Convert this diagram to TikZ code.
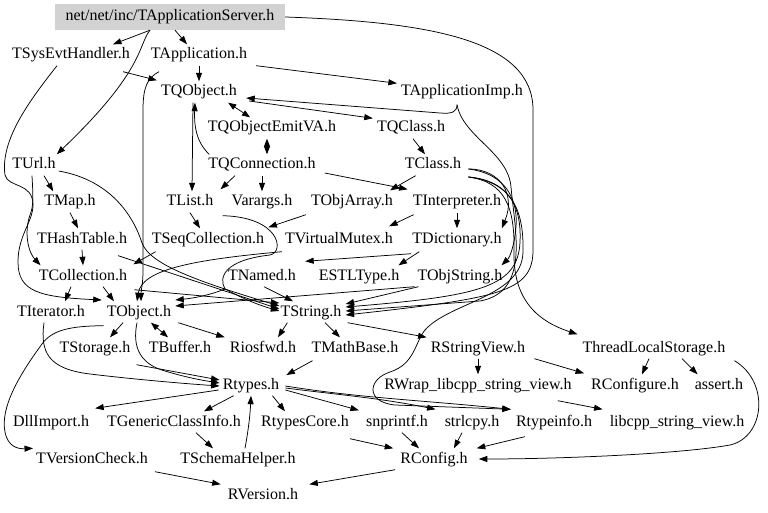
\documentclass[tikz,border=0pt]{standalone}
\usepackage{fontspec}
\setmainfont{Liberation Serif}
\usetikzlibrary{arrows.meta,calc}
\begin{document}
\begin{tikzpicture}[x=1pt,y=-1pt,
  n/.style={inner xsep=1pt,inner ysep=0pt,minimum height=21pt,text height=11.5pt,text depth=3.5pt,yshift=-2pt,font=\fontsize{16}{19}\selectfont},
  e/.style={-{Triangle[length=8.5pt,width=6pt]},line width=0.75pt},
  bi/.style={{Triangle[length=8pt,width=6pt]}-{Triangle[length=8pt,width=6pt]},line width=0.75pt}]
\useasboundingbox (0,0) rectangle (768,513);
% nodes
\node[n,fill=gray!35,minimum width=230pt,minimum height=26pt,yshift=1pt] (AS) at (170,16) {net/net/inc/TApplicationServer.h};
\node[n] (SysEvt) at (71,53) {TSysEvtHandler.h};
\node[n] (App) at (199,53) {TApplication.h};
\node[n] (QObj) at (199,90) {TQObject.h};
\node[n] (AppImp) at (462,90) {TApplicationImp.h};
\node[n] (QEVA) at (272,126) {TQObjectEmitVA.h};
\node[n] (QClass) at (411,126) {TQClass.h};
\node[n] (TUrl) at (34,163) {TUrl.h};
\node[n] (QConn) at (262,163) {TQConnection.h};
\node[n] (TClass) at (433,163) {TClass.h};
\node[n] (TMap) at (70,200) {TMap.h};
\node[n] (TList) at (190,200) {TList.h};
\node[n] (Varargs) at (262,200) {Varargs.h};
\node[n] (TObjArray) at (352,200) {TObjArray.h};
\node[n] (TInterp) at (457,200) {TInterpreter.h};
\node[n] (THash) at (82,237) {THashTable.h};
\node[n] (TSeq) at (208,237) {TSeqCollection.h};
\node[n] (TVM) at (339,237) {TVirtualMutex.h};
\node[n] (TDict) at (457,237) {TDictionary.h};
\node[n] (TColl) at (83,274) {TCollection.h};
\node[n] (TNamed) at (262,274) {TNamed.h};
\node[n] (ESTL) at (359,274) {ESTLType.h};
\node[n] (TObjStr) at (460,274) {TObjString.h};
\node[n] (TIter) at (51,310) {TIterator.h};
\node[n] (TObject) at (139,310) {TObject.h};
\node[n] (TString) at (311,310) {TString.h};
\node[n] (TStorage) at (95,346) {TStorage.h};
\node[n] (TBuffer) at (180,346) {TBuffer.h};
\node[n] (Riosfwd) at (263,346) {Riosfwd.h};
\node[n] (TMath) at (355,346) {TMathBase.h};
\node[n] (RSV) at (478,346) {RStringView.h};
\node[n] (TLS) at (654,346) {ThreadLocalStorage.h};
\node[n] (Rtypes) at (251,383) {Rtypes.h};
\node[n] (RWrap) at (478,383) {RWrap\_libcpp\_string\_view.h};
\node[n] (RConfigure) at (635,383) {RConfigure.h};
\node[n] (assert) at (719,383) {assert.h};
\node[n] (Dll) at (51,420) {DllImport.h};
\node[n] (TGCI) at (174,420) {TGenericClassInfo.h};
\node[n] (RCore) at (305,420) {RtypesCore.h};
\node[n] (snprintf) at (397,420) {snprintf.h};
\node[n] (strlcpy) at (472,420) {strlcpy.h};
\node[n] (Rtinfo) at (554,420) {Rtypeinfo.h};
\node[n] (libcpp) at (677,420) {libcpp\_string\_view.h};
\node[n] (TVC) at (92,457) {TVersionCheck.h};
\node[n] (TSH) at (238,457) {TSchemaHelper.h};
\node[n] (RConfig) at (434,457) {RConfig.h};
\node[n] (RVersion) at (263,493) {RVersion.h};
% top edges
\draw[e] ($(AS.south)+(-20,0)$) -- ($(SysEvt.north)+(42,0)$);
\draw[e] ($(AS.south)+(5,0)$) -- ($(App.north)+(-12,0)$);
\draw[e] ($(AS.south)+(-20,0)$) .. controls (138,45) and (145,70) .. (TUrl.north east);
\draw[e] (AS.east) .. controls (430,22) and (533,40) .. (533,110) -- (533,250) .. controls (533,292) and (500,298) .. ($(TString.east)+(3,3)$);
\draw[e] (App.south) -- (QObj.north);
\draw[e] ($(App.south east)+(8,0)$) -- ($(AppImp.north west)+(-3,2)$);
\draw[e] ($(App.south)+(-40,6)$) .. controls (147,78) and (143,88) .. (143,110) -- (143,270) .. controls (143,285) and (141,290) .. ($(TObject.north)+(2,0)$);
\draw[e] ($(SysEvt.south east)+(-8,6)$) -- ($(QObj.north west)+(-3,-1)$);
\draw[e] ($(SysEvt.south)+(-14,0)$) .. controls (30,100) and (0,140) .. (5,175) .. controls (8,188) and (33,182) .. (33,205) .. controls (33,222) and (18,235) .. (18,262) .. controls (18,292) and (40,297) .. ($(TObject.west)+(-4,-12)$);
% TUrl
\draw[e] ($(TUrl.south)+(10,0)$) -- ($(TMap.north west)+(10,0)$);
\draw[e] ($(TUrl.east)+(2,6)$) .. controls (110,180) and (133,215) .. (142,243) .. controls (150,265) and (200,282) .. ($(TString.west)+(0,-6)$);
\draw[e] ($(TUrl.south)+(-2,0)$) .. controls (33,195) and (34,205) .. (30,215) .. controls (24,232) and (28,252) .. ($(TColl.north west)+(3,0)$);
% collections
\draw[e] (TMap.south) -- ($(THash.north)+(-4,0)$);
\draw[e] (THash.south) -- (TColl.north);
\draw[e] ($(THash.south east)+(-10,6)$) -- ($(TString.west)+(0,-3)$);
\draw[e] ($(TColl.south)+(-12,0)$) -- ($(TIter.north)+(14,0)$);
\draw[e] ($(TColl.south)+(20,0)$) -- ($(TObject.north)+(-25,0)$);
\draw[e] ($(TColl.south east)+(6,3)$) -- ($(TString.west)+(0,-9)$);
% QObject cluster
\draw[e] ($(QObj.south)+(-6,0)$) -- ($(TList.north)+(2,0)$);
\draw[e] ($(QConn.north west)+(2,0)$) .. controls (196,142) and (194,125) .. ($(QObj.south)+(-4,0)$);
\draw[bi] ($(QObj.south east)+(-10,0)$) -- ($(QEVA.north)+(-22,0)$);
\draw[e] ($(QObj.east)+(11,9)$) -- ($(QClass.north west)+(-3,1)$);
\draw[e] ($(AppImp.south)+(-5,2)$) .. controls (457,112) and (452,114) .. (440,113) -- ($(QObj.east)+(8,6)$);
\draw[bi] ($(QEVA.south)+(-5,0)$) -- ($(QConn.north)+(5,0)$);
\draw[e] ($(QClass.south)+(2,0)$) -- ($(TClass.north)+(-8,0)$);
\draw[e] ($(QConn.south)+(-27,0)$) -- ($(TList.north east)+(6,-2)$);
\draw[e] (QConn.south) -- (Varargs.north);
\draw[e] ($(QConn.east)+(8,8)$) -- ($(TInterp.north west)+(-4,-2)$);
\draw[e] ($(TClass.south west)+(12,0)$) -- ($(TObjArray.north east)+(-4,-1)$);
\draw[e] ($(TInterp.south west)+(2,2)$) -- ($(TVM.north east)+(-5,-2)$);
\draw[e] (TInterp.south) -- (TDict.north);
\draw[e] ($(TDict.south west)+(0,4)$) -- ($(TNamed.north east)+(8,-4)$);
\draw[e] ($(TDict.south west)+(8,2)$) -- ($(ESTL.north east)+(-2,0)$);
\draw[e] ($(TObjArray.south west)+(-4,2)$) -- ($(TSeq.north east)+(3,-1)$);
\draw[e] (TList.south) -- ($(TSeq.north)+(-8,0)$);
\draw[e] ($(TSeq.south west)+(5,2)$) -- ($(TColl.north east)+(5,-1)$);
\draw[e] ($(TVM.south west)+(-2,2)$) .. controls (190,260) and (142,270) .. ($(TObject.north)+(-2,0)$);
\draw[e] ($(TList.south east)+(8,3)$) .. controls (280,217) and (285,252) .. (270,255) .. controls (225,260) and (218,277) .. (225,289) .. controls (210,295) and (195,298) .. ($(TObject.east)+(3,-12)$);
\draw[e] (225,289) .. controls (240,297) and (255,304) .. ($(TString.west)+(0,-1)$);
\draw[e] ($(TObjStr.south west)+(-2,0)$) -- ($(TObject.east)+(3,-6)$);
\draw[e] ($(TObjStr.south west)+(2,0)$) -- ($(TString.east)+(3,-8)$);
\draw[e] ($(TNamed.south)+(2,0)$) -- ($(TString.north)+(-18,0)$);
% TClass bundle
\draw[e] ($(TClass.east)+(6,4)$) .. controls (500,169) and (516,194) .. ($(TDict.north east)+(-1,0)$);
\draw[e] ($(TClass.east)+(6,4)$) .. controls (508,174) and (518,202) .. (516,227) .. controls (514,247) and (510,257) .. ($(TObjStr.north east)+(-2,0)$);
\draw[e] ($(TClass.east)+(6,12)$) .. controls (505,180) and (522,202) .. (520,242) .. controls (518,287) and (480,296) .. ($(TString.east)+(3,-5)$);
\draw[e] ($(TClass.east)+(6,12)$) .. controls (505,182) and (515,207) .. (514,252) .. controls (513,302) and (540,322) .. ($(TLS.north west)+(-4,-3)$);
\draw[e] ($(TClass.east)+(6,12)$) .. controls (510,182) and (524,207) .. (523,252) .. controls (522,297) and (450,302) .. (425,330) .. controls (415,342) and (415,364) .. (390,372) .. controls (368,379) and (365,402) .. (395,405) -- ($(Rtinfo.north west)+(-4,-2)$);
\draw[e] ($(AppImp.south)+(-5,2)$) .. controls (463,137) and (508,152) .. (511,187) .. controls (515,232) and (530,292) .. (480,301) -- ($(TString.east)+(3,-1)$);
% TObject level
\draw[e] ($(TObject.south)+(-16,0)$) -- ($(TStorage.north)+(15,0)$);
\draw[bi] ($(TObject.south)+(12,0)$) -- ($(TBuffer.north)+(-12,0)$);
\draw[e] ($(TObject.south east)+(6,0)$) -- ($(Riosfwd.north west)+(-4,0)$);
\draw[e] ($(TObject.south)+(-2,0)$) .. controls (132,347) and (140,364) .. (165,371) .. controls (185,377) and (200,380) .. ($(Rtypes.west)+(-2,-2)$);
\draw[e] ($(TStorage.south east)+(5,6)$) -- ($(Rtypes.west)+(-2,-5)$);
\draw[e] ($(TIter.south)+(-7,0)$) .. controls (40,352) and (48,369) .. (90,374) .. controls (140,380) and (190,384) .. ($(Rtypes.west)+(-2,1)$);
\draw[e] ($(TObject.south west)+(-2,3)$) .. controls (70,326) and (52,330) .. (42,344) .. controls (20,374) and (0,407) .. (5,432) .. controls (8,447) and (18,449) .. ($(TVC.north west)+(-2,0)$);
\draw[e] ($(TString.south west)+(8,0)$) -- ($(Riosfwd.north)+(15,0)$);
\draw[e] ($(TString.south)+(14,0)$) -- ($(TMath.north)+(-15,0)$);
\draw[e] ($(TString.south east)+(5,0)$) -- ($(RSV.north west)+(-3,0)$);
\draw[e] ($(TMath.south west)+(2,2)$) -- ($(Rtypes.east)+(6,-10)$);
% Rtypes level
\draw[e] ($(Rtypes.west)+(-3,5)$) -- ($(Dll.north east)+(5,-3)$);
\draw[e] ($(Rtypes.south west)+(12,0)$) -- ($(TGCI.north)+(30,0)$);
\draw[e] ($(Rtypes.south east)+(-8,0)$) -- ($(RCore.north)+(-20,0)$);
\draw[e] ($(Rtypes.east)+(5,5)$) -- ($(snprintf.north west)+(-6,-1)$);
\draw[e] ($(Rtypes.east)+(5,3)$) .. controls (340,395) and (380,398) .. ($(strlcpy.north west)+(-8,-2)$);
\draw[e] ($(Rtypes.east)+(5,1)$) .. controls (360,398) and (420,400) .. ($(Rtinfo.north west)+(-4,-2)$);
\draw[e] ($(TSH.north)+(7,0)$) .. controls (248,432) and (250,417) .. (Rtypes.south);
\draw[e] ($(TGCI.south)+(22,0)$) -- ($(TSH.north)+(-25,0)$);
\draw[e] ($(RCore.south east)+(0,6)$) -- ($(RConfig.north west)+(-6,0)$);
\draw[e] ($(snprintf.south)+(5,0)$) -- ($(RConfig.north)+(-15,0)$);
\draw[e] ($(strlcpy.south)+(-10,0)$) -- ($(RConfig.north)+(20,0)$);
\draw[e] ($(Rtinfo.south west)+(10,4)$) -- ($(RConfig.north east)+(8,0)$);
\draw[e] ($(TLS.south east)+(8,2)$) .. controls (770,382) and (765,437) .. (730,445) .. controls (680,454) and (560,459) .. ($(RConfig.east)+(10,0)$);
\draw[e] ($(TLS.south)+(-5,0)$) -- ($(RConfigure.north)+(7,0)$);
\draw[e] ($(TLS.south)+(28,0)$) -- ($(assert.north west)+(4,0)$);
\draw[e] ($(RSV.south east)+(8,0)$) -- ($(RConfigure.north west)+(-6,-1)$);
\draw[e] (RSV.south) -- (RWrap.north);
\draw[e] ($(RWrap.south east)+(-15,5)$) -- ($(libcpp.north west)+(-6,-2)$);
\draw[e] ($(RConfig.south west)+(-4,0)$) -- ($(RVersion.north east)+(10,0)$);
\draw[e] ($(TVC.south east)+(6,2)$) -- ($(RVersion.north west)+(-6,0)$);
\end{tikzpicture}
\end{document}
